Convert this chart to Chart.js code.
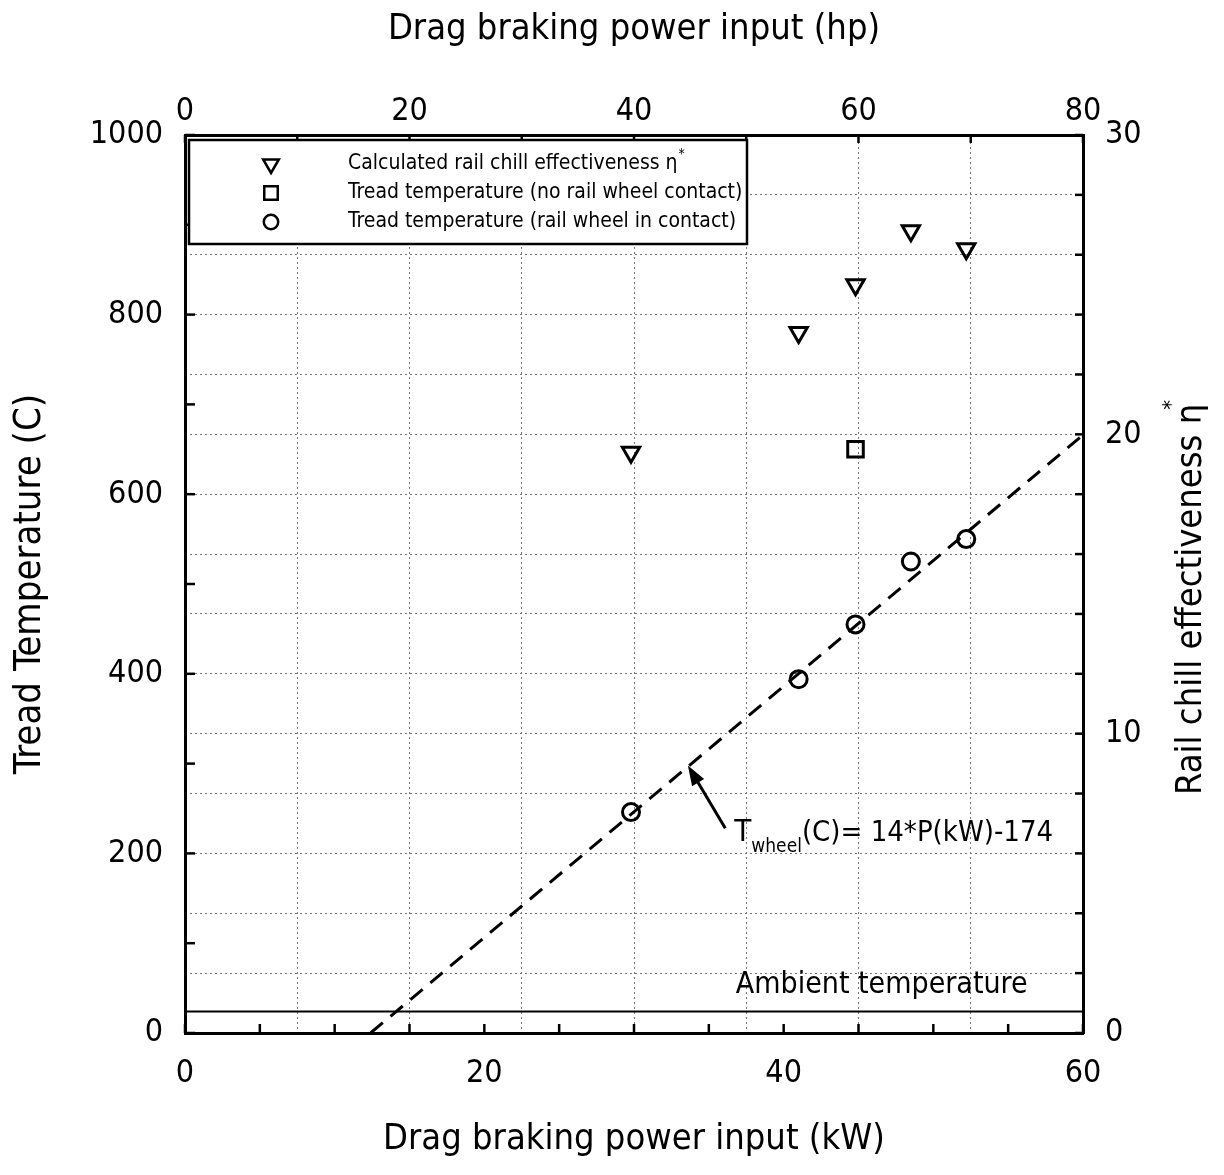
<!DOCTYPE html>
<html>
<head>
<meta charset="utf-8">
<title>Tread temperature vs drag braking power</title>
<script src="https://cdn.jsdelivr.net/npm/chart.js@4.4.0/dist/chart.umd.min.js"></script>
<style>
  body { margin: 0; background: #fff; }
  #wrap { width: 1224px; height: 1175px; }
</style>
</head>
<body>
<div id="wrap"><canvas id="chart"></canvas></div>
<script>
const FONT = "'Liberation Sans Narrow', 'DejaVu Sans Condensed', 'Arial Narrow', sans-serif";

// drag braking power of each test (kW)
const powerKW = [29.8, 41.0, 44.8, 48.5, 52.2];
// tread temperature, rail wheel in contact (C)
const treadContact = [246, 394, 455, 525, 550];
// calculated rail chill effectiveness (right axis)
const chillEff = [19.4, 23.4, 25.0, 26.8, 26.2];
// tread temperature, no rail wheel contact
const noContactKW = [44.8];
const noContactTemp = [650];
// fitted line T = 14*P - 174 (end points)
const fitKW = [12.4, 60];
const fitTemp = [0, 666];
// ambient temperature
const ambientKW = [0, 60];
const ambientTemp = [24, 24];

const xy = (xs, ys) => xs.map((x, i) => ({ x: x, y: ys[i] }));

// ticks drawn inside the frame, like the original plot
const inwardTicks = {
  id: 'inwardTicks',
  afterDraw(chart) {
    const ctx = chart.ctx, a = chart.chartArea;
    const len = { x: 9, x2: 8, y: 10, y2: 8 };
    ctx.save();
    ctx.strokeStyle = '#000';
    ctx.lineWidth = 2.5;
    Object.keys(len).forEach(id => {
      const s = chart.scales[id];
      s.ticks.forEach(t => {
        const p = s.getPixelForValue(t.value);
        ctx.beginPath();
        if (id === 'x') { ctx.moveTo(p, a.bottom); ctx.lineTo(p, a.bottom - len[id]); }
        if (id === 'x2') { ctx.moveTo(p, a.top); ctx.lineTo(p, a.top + len[id]); }
        if (id === 'y') { ctx.moveTo(a.left, p); ctx.lineTo(a.left + len[id], p); }
        if (id === 'y2') { ctx.moveTo(a.right, p); ctx.lineTo(a.right - len[id], p); }
        ctx.stroke();
      });
    });
    ctx.restore();
  }
};

function drawSymbol(ctx, style, x, y, r) {
  ctx.beginPath();
  if (style === 'triangle') {
    ctx.moveTo(x - r * 0.87, y - r * 0.5);
    ctx.lineTo(x + r * 0.87, y - r * 0.5);
    ctx.lineTo(x, y + r);
    ctx.closePath();
  } else if (style === 'rect') {
    ctx.rect(x - r * 0.75, y - r * 0.75, r * 1.5, r * 1.5);
  } else {
    ctx.arc(x, y, r * 0.8, 0, Math.PI * 2);
  }
  ctx.fill();
  ctx.stroke();
}

// boxed legend in the upper left corner of the plot
const legendBox = {
  id: 'legendBox',
  afterDraw(chart) {
    const ctx = chart.ctx, a = chart.chartArea;
    const left = a.left + 4, top = a.top + 5, w = 558, h = 104;
    ctx.save();
    ctx.fillStyle = '#fff';
    ctx.fillRect(left, top, w, h);
    ctx.lineWidth = 2.5;
    ctx.strokeStyle = '#000';
    ctx.strokeRect(left, top, w, h);
    ctx.font = '21px ' + FONT;
    ctx.textBaseline = 'middle';
    [0, 1, 2].forEach((di, row) => {
      const ds = chart.data.datasets[di];
      const y = top + 24 + row * 29;
      ctx.fillStyle = '#fff';
      ctx.lineWidth = 2.5;
      drawSymbol(ctx, ds.pointStyle, left + 82, y, 9);
      ctx.fillStyle = '#000';
      ctx.fillText(ds.label, left + 159, y);
      if (ds.labelSup) {
        const tw = ctx.measureText(ds.label).width;
        ctx.font = '14px ' + FONT;
        ctx.fillText(ds.labelSup, left + 160 + tw, y - 10);
        ctx.font = '21px ' + FONT;
      }
    });
    ctx.restore();
  }
};

// arrow, fit equation, ambient label and right-hand axis title
const notes = {
  id: 'notes',
  afterDraw(chart) {
    const ctx = chart.ctx, x = chart.scales.x, y = chart.scales.y;
    ctx.save();
    ctx.fillStyle = '#000';
    ctx.strokeStyle = '#000';

    // arrow to the fit line
    const tx = x.getPixelForValue(36.1), ty = y.getPixelForValue(228);
    const hx = x.getPixelForValue(33.6), hy = y.getPixelForValue(298);
    const ang = Math.atan2(hy - ty, hx - tx);
    ctx.lineWidth = 3;
    ctx.beginPath();
    ctx.moveTo(tx, ty);
    ctx.lineTo(hx - 12 * Math.cos(ang), hy - 12 * Math.sin(ang));
    ctx.stroke();
    ctx.beginPath();
    ctx.moveTo(hx, hy);
    ctx.lineTo(hx - 20 * Math.cos(ang) + 7 * Math.sin(ang), hy - 20 * Math.sin(ang) - 7 * Math.cos(ang));
    ctx.lineTo(hx - 20 * Math.cos(ang) - 7 * Math.sin(ang), hy - 20 * Math.sin(ang) + 7 * Math.cos(ang));
    ctx.closePath();
    ctx.fill();

    // equation
    const ex = x.getPixelForValue(36.7), eb = y.getPixelForValue(214);
    ctx.textBaseline = 'alphabetic';
    ctx.textAlign = 'left';
    ctx.font = '31px ' + FONT;
    ctx.fillText('T', ex, eb);
    let cx = ex + ctx.measureText('T').width;
    ctx.font = '19px ' + FONT;
    ctx.fillText('wheel', cx, eb + 11);
    cx += ctx.measureText('wheel').width;
    ctx.font = '29px ' + FONT;
    ctx.fillText('(C)= 14*P(kW)-174', cx, eb);

    // ambient label
    ctx.textAlign = 'right';
    ctx.font = '30px ' + FONT;
    ctx.fillText('Ambient temperature', x.getPixelForValue(56.3), y.getPixelForValue(45));

    // right axis title, read bottom to top
    ctx.translate(1192, 795);
    ctx.rotate(-Math.PI / 2);
    ctx.textAlign = 'left';
    ctx.textBaseline = 'middle';
    ctx.font = '36px ' + FONT;
    const t = 'Rail chill effectiveness \u03b7';
    const tw = ctx.measureText(t).width;
    ctx.fillText(t, 0, 0);
    ctx.font = '22px ' + FONT;
    ctx.fillText('*', tw - 6, -20);
    ctx.restore();
  }
};

const tickFont = { family: FONT, size: 32 };
const titleFont = { family: FONT, size: 36 };

new Chart(document.getElementById('chart'), {
  type: 'scatter',
  data: {
    datasets: [
      {
        label: 'Calculated rail chill effectiveness \u03b7',
        labelSup: '*',
        data: xy(powerKW, chillEff),
        yAxisID: 'y2',
        pointStyle: 'triangle',
        rotation: 180,
        pointRadius: 10,
        borderWidth: 3,
        borderColor: '#000',
        backgroundColor: 'rgba(255,255,255,0)'
      },
      {
        label: 'Tread temperature (no rail wheel contact)',
        data: xy(noContactKW, noContactTemp),
        yAxisID: 'y',
        pointStyle: 'rect',
        pointRadius: 11,
        borderWidth: 3,
        borderColor: '#000',
        backgroundColor: 'rgba(255,255,255,0)'
      },
      {
        label: 'Tread temperature (rail wheel in contact)',
        data: xy(powerKW, treadContact),
        yAxisID: 'y',
        pointStyle: 'circle',
        pointRadius: 8.5,
        borderWidth: 3,
        borderColor: '#000',
        backgroundColor: 'rgba(255,255,255,0)'
      },
      {
        label: 'Fit',
        data: xy(fitKW, fitTemp),
        yAxisID: 'y',
        showLine: true,
        pointRadius: 0,
        borderColor: '#000',
        borderWidth: 3,
        borderDash: [16, 10]
      },
      {
        label: 'Ambient temperature',
        data: xy(ambientKW, ambientTemp),
        yAxisID: 'y',
        showLine: true,
        pointRadius: 0,
        borderColor: '#000',
        borderWidth: 2
      }
    ]
  },
  options: {
    responsive: true,
    maintainAspectRatio: false,
    animation: false,
    layout: { padding: 0 },
    plugins: {
      legend: { display: false },
      tooltip: { enabled: false }
    },
    scales: {
      x: {
        type: 'linear',
        position: 'bottom',
        min: 0, max: 60,
        afterFit: s => { s.height = 142; },
        ticks: {
          stepSize: 5,
          padding: 21,
          color: '#000',
          font: tickFont,
          maxRotation: 0,
          callback: v => (v % 20 === 0 ? v : '')
        },
        grid: { drawOnChartArea: false, drawTicks: false },
        border: { color: '#000', width: 3 },
        title: {
          display: true,
          text: 'Drag braking power input (kW)',
          color: '#000',
          font: titleFont,
          padding: { bottom: 14 }
        }
      },
      x2: {
        type: 'linear',
        position: 'top',
        min: 0, max: 80,
        afterFit: s => { s.height = 135; },
        ticks: {
          stepSize: 10,
          padding: 4,
          color: '#000',
          font: tickFont,
          maxRotation: 0,
          callback: v => (v % 20 === 0 ? v : '')
        },
        grid: { drawOnChartArea: true, drawTicks: false, color: '#777', lineWidth: 1 },
        border: { color: '#000', width: 3, dash: [2, 3] },
        title: {
          display: true,
          text: 'Drag braking power input (hp)',
          color: '#000',
          font: titleFont,
          padding: { top: 8 }
        }
      },
      y: {
        type: 'linear',
        position: 'left',
        min: 0, max: 1000,
        afterFit: s => { s.width = 185; },
        ticks: {
          stepSize: 100,
          padding: 22,
          color: '#000',
          font: tickFont,
          callback: v => (v % 200 === 0 ? v : '')
        },
        grid: { drawOnChartArea: false, drawTicks: false },
        border: { color: '#000', width: 3 },
        title: {
          display: true,
          text: 'Tread Temperature (C)',
          color: '#000',
          font: { family: FONT, size: 38 },
          padding: { top: 7 }
        }
      },
      y2: {
        type: 'linear',
        position: 'right',
        min: 0, max: 30,
        afterFit: s => { s.width = 141; },
        ticks: {
          stepSize: 2,
          padding: 22,
          color: '#000',
          font: tickFont,
          callback: v => (v % 10 === 0 ? v : '')
        },
        grid: { drawOnChartArea: true, drawTicks: false, color: '#777', lineWidth: 1 },
        border: { color: '#000', width: 3, dash: [2, 3] }
      }
    }
  },
  plugins: [inwardTicks, legendBox, notes]
});
</script>
</body>
</html>
